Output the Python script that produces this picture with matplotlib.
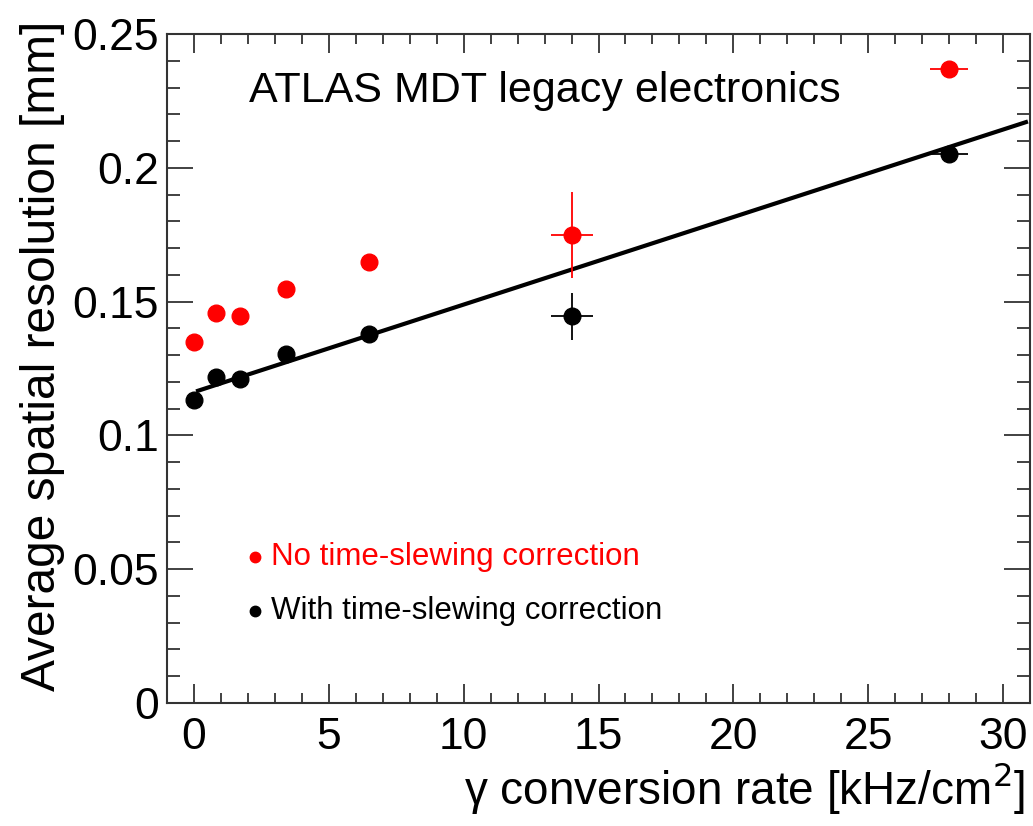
import matplotlib
matplotlib.use("Agg")
import matplotlib.pyplot as plt

plt.rcParams['font.family'] = ['Liberation Sans', 'DejaVu Sans']

# gamma conversion rate [kHz/cm2]
rate = [0.0, 0.8, 1.7, 3.4, 6.5, 14.0, 28.0]
rate_err = [0, 0, 0, 0, 0, 0.78, 0.7]

# no time-slewing correction
res_raw = [0.135, 0.1456, 0.1447, 0.1546, 0.1647, 0.1749, 0.2368]
res_raw_err = [0, 0, 0, 0, 0, 0.016, 0]

# with time-slewing correction
res_corr = [0.1132, 0.1218, 0.121, 0.1304, 0.1378, 0.1446, 0.205]
res_corr_err = [0, 0, 0, 0, 0, 0.0088, 0]

# linear fit of corrected points
fit_intercept = 0.1162
fit_slope = 0.00327
fit_range = [0.15, 30.85]

fig = plt.figure(figsize=(10.33, 8.26), dpi=100)
ax = fig.add_axes([0.1617, 0.1489, 0.9971 - 0.1617, 0.9588 - 0.1489])

ax.errorbar(rate, res_raw, xerr=rate_err, yerr=res_raw_err, fmt='o', color='red',
            ms=12, elinewidth=1.3, capsize=0, zorder=3)
ax.errorbar(rate, res_corr, xerr=rate_err, yerr=res_corr_err, fmt='o', color='black',
            ms=12, elinewidth=1.3, capsize=0, zorder=3)

fx = fit_range
fy = [fit_intercept + fit_slope * v for v in fx]
ax.plot(fx, fy, color='black', lw=3, zorder=2)

ax.set_xlim(-1, 31)
ax.set_ylim(0, 0.25)
ax.set_xticks([0, 5, 10, 15, 20, 25, 30])
ax.set_xticks(range(0, 31), minor=True)
ax.set_yticks([0, 0.05, 0.1, 0.15, 0.2, 0.25])
ax.set_yticklabels(['0', '0.05', '0.1', '0.15', '0.2', '0.25'])
ax.set_yticks([i * 0.01 for i in range(26)], minor=True)

for s in ax.spines.values():
    s.set_linewidth(1.5)
    s.set_color('#333333')
ax.tick_params(which='both', direction='in', top=True, right=True,
               labelsize=32, color='#333333', width=1.3)
ax.tick_params(axis='x', which='major', length=14, pad=10)
ax.tick_params(axis='x', which='minor', length=7)
ax.tick_params(axis='y', which='major', length=19, pad=6)
ax.tick_params(axis='y', which='minor', length=9.5)

fig.text(0.9923, 0.012, 'γ conversion rate [kHz/cm$^2$]', fontsize=33,
         ha='right', va='bottom')
fig.text(0.041, 0.975, 'Average spatial resolution [mm]', fontsize=34.5,
         rotation=90, ha='center', va='top')

ax.text(0.095, 0.915, 'ATLAS MDT legacy electronics', fontsize=31,
        transform=ax.transAxes, ha='left', va='center')

ax.plot([2.25], [0.0545], 'o', color='red', ms=7.5)
ax.text(2.85, 0.0545, 'No time-slewing correction', fontsize=22.5, color='red',
        ha='left', va='center')
ax.plot([2.25], [0.0345], 'o', color='black', ms=7.5)
ax.text(2.85, 0.0345, 'With time-slewing correction', fontsize=22.5, color='black',
        ha='left', va='center')

fig.savefig('out.png', dpi=100)
